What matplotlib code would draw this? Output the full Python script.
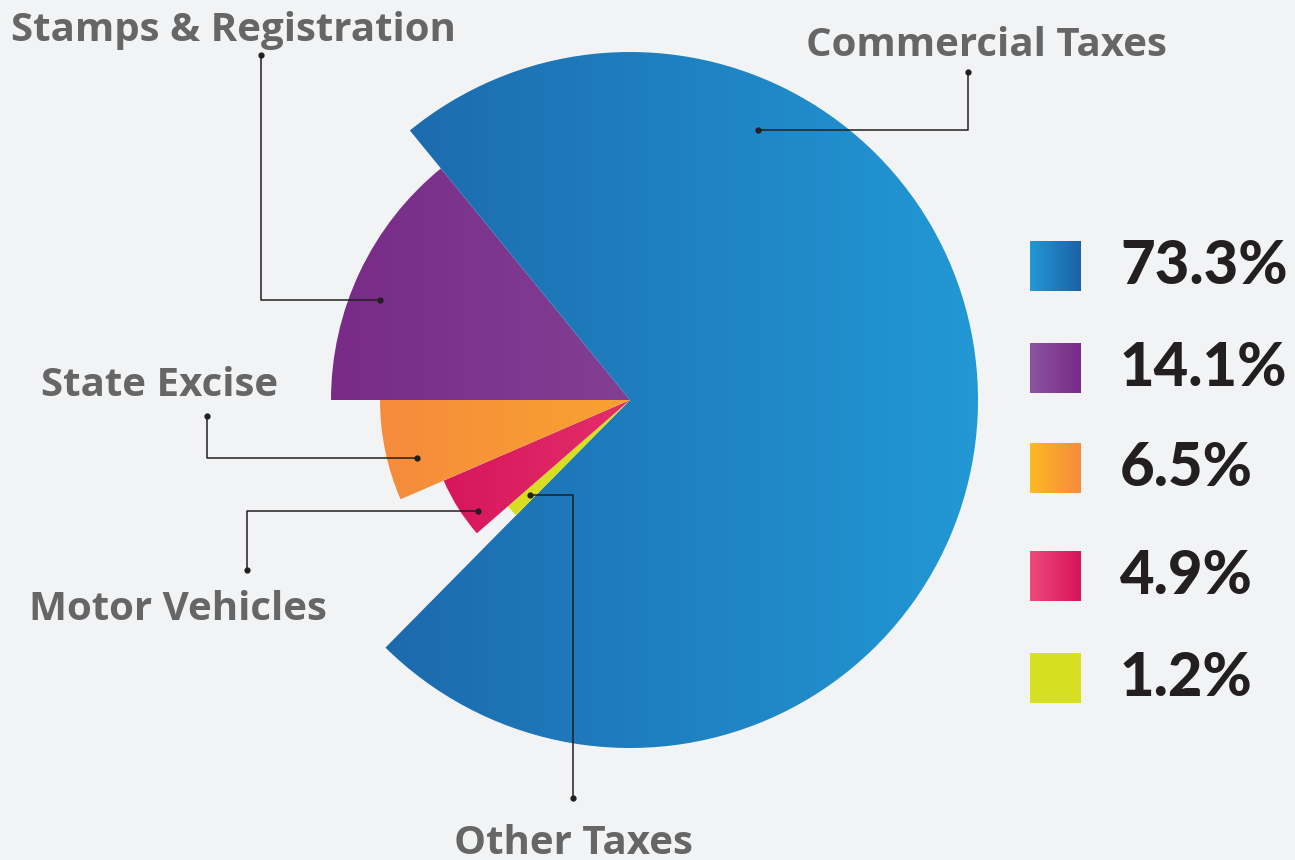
import numpy as np
import matplotlib.pyplot as plt
from matplotlib.patches import Wedge, Rectangle
from matplotlib.colors import LinearSegmentedColormap

# data (clockwise from 9 o'clock)
categories = ['Stamps & Registration', 'Commercial Taxes', 'Other Taxes',
              'Motor Vehicles', 'State Excise']
shares = [14.1, 73.3, 1.2, 4.9, 6.5]
legend_order = ['Commercial Taxes', 'Stamps & Registration', 'State Excise',
                'Motor Vehicles', 'Other Taxes']

# styling
radius = {'Commercial Taxes': 348, 'Stamps & Registration': 299,
          'State Excise': 250, 'Motor Vehicles': 203, 'Other Taxes': 162}
grad = {'Commercial Taxes': ('#1b62a6', '#2298d5'),
        'Stamps & Registration': ('#782b87', '#8b54a0'),
        'State Excise': ('#f58b3c', '#fcba25'),
        'Motor Vehicles': ('#d6145a', '#ef497c'),
        'Other Taxes': ('#d7df21', '#d7df21')}
bg = '#f2f3f5'
W, H = 1295, 860
cx, cy = 630, H - 400

fig = plt.figure(figsize=(W / 100, H / 100), dpi=100, facecolor=bg)
ax = fig.add_axes([0, 0, 1, 1])
ax.set_xlim(0, W)
ax.set_ylim(0, H)
ax.axis('off')
ax.set_facecolor(bg)


def gradient_fill(patch, c_left, c_right, x0, x1, y0, y1):
    cmap = LinearSegmentedColormap.from_list('g', [c_left, c_right])
    g = np.linspace(0, 1, 256).reshape(1, -1)
    im = ax.imshow(g, cmap=cmap, extent=[x0, x1, y0, y1], aspect='auto',
                   interpolation='bicubic', zorder=2)
    im.set_clip_path(patch)


# wedges
start = 180.0
for cat, v in zip(categories, shares):
    t2 = start
    t1 = start - v * 3.6
    start = t1
    r = radius[cat]
    w = Wedge((cx, cy), r, t1, t2, facecolor='none', edgecolor='none')
    ax.add_patch(w)
    c0, c1 = grad[cat]
    gradient_fill(w, c0, c1, cx - r, cx + r, cy - r, cy + r)

# leader lines (pixel coords, y from top)
leaders = [
    [(758, 130), (968, 130), (968, 72)],
    [(380, 300), (261, 300), (261, 55)],
    [(417, 458), (207, 458), (207, 416)],
    [(478, 511), (247, 511), (247, 570)],
    [(530, 495), (573, 495), (573, 798)],
]
for pts in leaders:
    xs = [p[0] for p in pts]
    ys = [H - p[1] for p in pts]
    ax.plot(xs, ys, color='#231f20', lw=1.1, zorder=4)
    ax.plot([xs[0], xs[-1]], [ys[0], ys[-1]], 'o', color='#231f20', ms=3.5, zorder=5)

label_pos = {'Stamps & Registration': (233, 31), 'Commercial Taxes': (986, 46),
             'State Excise': (160, 385), 'Motor Vehicles': (178, 609),
             'Other Taxes': (573, 843)}
for cat, (x, y) in label_pos.items():
    ax.text(x, H - y, cat, ha='center', va='center', fontsize=29,
            fontweight='bold', family='Open Sans', color='#666666', zorder=6)

# legend
leg_y = [266, 368, 468, 576, 678]
for cat, y in zip(legend_order, leg_y):
    val = shares[categories.index(cat)]
    sq = Rectangle((1030, H - y - 25.5), 51, 51, facecolor='none', edgecolor='none')
    ax.add_patch(sq)
    c0, c1 = grad[cat]
    gradient_fill(sq, c1, c0, 1030, 1081, H - y - 25.5, H - y + 25.5)
    ax.text(1120, H - y, f'{val}%', ha='left', va='center', fontsize=43,
            fontweight='black', family='Lato', color='#231f20', zorder=6)

fig.savefig('out.png', dpi=100, facecolor=bg)
